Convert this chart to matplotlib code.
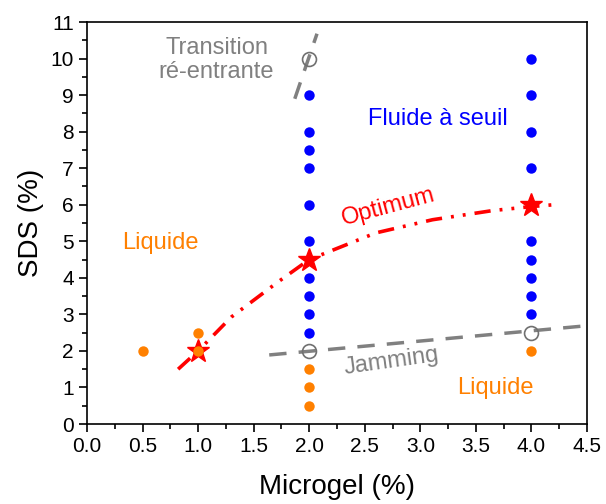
import matplotlib
matplotlib.use("Agg")
import matplotlib.pyplot as plt
from matplotlib.ticker import MultipleLocator

plt.rcParams['font.family'] = ['Liberation Sans', 'DejaVu Sans']

# Data
blue_x = [2]*10 + [4]*9
blue_y = [2.5, 3, 3.5, 4, 5, 6, 7, 7.5, 8, 9] + [3, 3.5, 4, 4.5, 5, 7, 8, 9, 10]
orange_x = [0.5, 1, 1, 2, 2, 2, 4]
orange_y = [2, 2.5, 2, 1.5, 1, 0.5, 2]
open_x = [2, 2, 4]
open_y = [10, 2, 2.5]
star_x = [1, 2, 4]
star_y = [2, 4.5, 6]
optimum_x = [0.82, 1.0, 1.3, 1.72, 2.0, 2.6, 3.11, 3.65, 4.0, 4.2]
optimum_y = [1.5, 2.0, 2.93, 3.89, 4.5, 5.23, 5.59, 5.84, 5.95, 6.0]
jamming_x = [1.64, 4.5]
jamming_y = [1.89, 2.69]
transition_x = [1.87, 2.07]
transition_y = [8.9, 10.68]

fig = plt.figure(figsize=(6.06, 5.04), dpi=100)
ax = fig.add_axes([0.1436, 0.1587, 0.825, 0.7976])

ax.plot(optimum_x, optimum_y, color='red', lw=2.6,
        linestyle=(0, (4.5, 2.5, 0.8, 2.5, 0.8, 2.5)), zorder=2)
ax.plot(jamming_x, jamming_y, color='#808080', lw=2.5,
        linestyle=(0, (5, 3.5)), zorder=2)
ax.plot(transition_x, transition_y, color='#808080', lw=2.5,
        linestyle=(0, (5, 3.5)), zorder=2)

ax.plot(blue_x, blue_y, 'o', color='blue', ms=7.5, mec='none', zorder=3)
ax.plot(orange_x, orange_y, 'o', color='#ff8000', ms=7.5, mec='none', zorder=3)
ax.plot(open_x, open_y, 'o', mfc='none', mec='#707070', ms=10, mew=1.2, zorder=4)
ax.plot(star_x, star_y, '*', color='red', ms=17, mec='red', zorder=5)
# orange point visible over the star at (1,2)
ax.plot([1], [2], 'o', color='#ff8000', ms=7.5, mec='none', zorder=6)

ax.set_xlim(0, 4.5)
ax.set_ylim(0, 11)
ax.xaxis.set_major_locator(MultipleLocator(0.5))
ax.xaxis.set_minor_locator(MultipleLocator(0.25))
ax.yaxis.set_major_locator(MultipleLocator(1))
ax.yaxis.set_minor_locator(MultipleLocator(0.5))
ax.xaxis.set_major_formatter(matplotlib.ticker.FormatStrFormatter('%.1f'))
ax.tick_params(which='major', direction='out', length=6, width=1.2, labelsize=15)
ax.tick_params(which='minor', direction='out', length=3.5, width=1.2)
for s in ax.spines.values():
    s.set_linewidth(1.2)

ax.set_xlabel('Microgel (%)', fontsize=20, labelpad=13)
ax.set_ylabel('SDS (%)', fontsize=20, labelpad=5)

ax.text(1.166, 9.96, 'Transition\nré-entrante', color='#808080', fontsize=17,
        ha='center', va='center', linespacing=1.1)
ax.text(3.16, 8.36, 'Fluide à seuil', color='blue', fontsize=17, ha='center', va='center')
ax.text(2.71, 5.94, 'Optimum', color='red', fontsize=17, ha='center', va='center', rotation=15)
ax.text(0.66, 4.96, 'Liquide', color='#ff8000', fontsize=17, ha='center', va='center')
ax.text(3.68, 0.98, 'Liquide', color='#ff8000', fontsize=17, ha='center', va='center')
ax.text(2.745, 1.70, 'Jamming', color='#808080', fontsize=17, ha='center', va='center', rotation=8)

fig.savefig('out.png', dpi=100)
